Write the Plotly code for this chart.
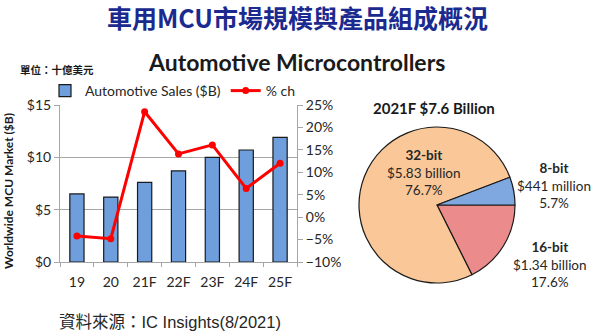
import plotly.graph_objects as go

# --- data ---
years = ["19", "20", "21F", "22F", "23F", "24F", "25F"]
sales_b = [6.5, 6.2, 7.6, 8.7, 10.0, 10.7, 11.9]          # Automotive Sales ($B)
pct_change = [-4.2, -4.8, 23.5, 14.1, 16.1, 6.4, 12.0]    # % ch

seg_names = ["16-bit", "32-bit", "8-bit"]
seg_values_m = [1340, 5830, 441]                           # $ million, 2021F
seg_amount_text = ["$1.34 billion", "$5.83 billion", "$441 million"]
seg_share_text = ["17.6%", "76.7%", "5.7%"]
seg_colors = ["#EC8B8B", "#FAC898", "#7FA8E0"]

W, H = 600, 333
FONT = "Lato, Open Sans, sans-serif"
CJK = "Noto Sans CJK TC, Noto Sans CJK SC, sans-serif"
SRC = "Liberation Sans, Noto Sans CJK TC, sans-serif"


def px(x, y):
    """pixel position -> paper coordinates"""
    return x / W, 1 - y / H


fig = go.Figure()

fig.add_trace(go.Bar(
    x=years, y=sales_b, name="Automotive Sales ($B)",
    marker=dict(color="#6E9EDC", line=dict(color="#1a1a1a", width=1.2)),
    width=0.42, xaxis="x", yaxis="y",
))
fig.add_trace(go.Scatter(
    x=years, y=pct_change, name="% ch", mode="lines+markers",
    line=dict(color="#FF0000", width=3),
    marker=dict(color="#FF0000", size=7),
    xaxis="x", yaxis="y2",
))

fig.add_trace(go.Pie(
    labels=seg_names, values=seg_values_m, sort=False,
    direction="clockwise", rotation=90,
    marker=dict(colors=seg_colors, line=dict(color="#1a1a1a", width=1.2)),
    textinfo="none", hoverinfo="label+percent", showlegend=False,
    domain=dict(x=[359 / W, 515 / W], y=[1 - 283 / H, 1 - 127 / H]),
))

x0, x1 = 60 / W, 297 / W
y0, y1 = 1 - 262 / H, 1 - 105 / H
grid = "#A6A6A6"
tick_font = dict(family=FONT, size=14, color="#262626")

fig.update_layout(
    width=W, height=H,
    margin=dict(l=0, r=0, t=0, b=0, autoexpand=False),
    paper_bgcolor="white", plot_bgcolor="white",
    font=dict(family=FONT, size=13, color="#262626"),
    xaxis=dict(
        domain=[x0, x1], showline=True, linecolor=grid, linewidth=1,
        ticks="outside", tickson="boundaries", ticklen=4, tickcolor=grid,
        tickfont=tick_font, showgrid=False, automargin=False,
        ticklabelstandoff=7,
    ),
    yaxis=dict(
        domain=[y0, y1], range=[0, 15], dtick=5, tickprefix="$",
        showline=True, linecolor=grid, linewidth=1,
        ticks="outside", ticklen=5, tickcolor=grid,
        showgrid=True, gridcolor=grid, gridwidth=1, zeroline=False,
        tickfont=tick_font, automargin=False,
    ),
    yaxis2=dict(
        overlaying="y", side="right", anchor="x", range=[-10, 25], dtick=5,
        ticksuffix="%", showline=True, linecolor=grid, linewidth=1,
        ticks="outside", ticklen=5, tickcolor=grid,
        showgrid=False, zeroline=False,
        tickfont=tick_font, automargin=False,
    ),
    legend=dict(
        orientation="h", x=45 / W, y=1 - 91 / H, xanchor="left", yanchor="middle",
        font=dict(family=FONT, size=14, color="#262626"), bgcolor="rgba(0,0,0,0)",
        itemwidth=30, tracegroupgap=0,
    ),
)

ann = []
tx, ty = px(297, 17.5)
ann.append(dict(x=tx, y=ty, text="<b>車用MCU市場規模與產品組成概況</b>",
                font=dict(family=CJK, size=25, color="#1B2A8F")))
tx, ty = px(296, 62)
ann.append(dict(x=tx, y=ty, text="<b>Automotive Microcontrollers</b>",
                font=dict(family=FONT, size=23, color="#1a1a1a")))
tx, ty = px(18, 69)
ann.append(dict(x=tx, y=ty, text="<b>單位：十億美元</b>", xanchor="left",
                font=dict(family=CJK, size=10.5, color="#1a1a1a")))
tx, ty = px(9, 191)
ann.append(dict(x=tx, y=ty, text="<b>Worldwide MCU Market ($B)</b>", textangle=-90,
                font=dict(family=FONT, size=12, color="#1a1a1a")))
tx, ty = px(434, 108)
ann.append(dict(x=tx, y=ty, text="<b>2021F $7.6 Billion</b>",
                font=dict(family=FONT, size=15, color="#1a1a1a")))
tx, ty = px(170, 322)
ann.append(dict(x=tx, y=ty, text="資料來源：IC Insights(8/2021)",
                font=dict(family=SRC, size=16.5, color="#262626")))

# slice labels: name, amount, share
label_pos = {"32-bit": (424, 172), "8-bit": (554, 185), "16-bit": (550, 264)}
for name, amt, share in zip(seg_names, seg_amount_text, seg_share_text):
    lx, lyc = label_pos[name]
    tx, ty = px(lx, lyc)
    ann.append(dict(x=tx, y=ty,
                    text=f"<b>{name}</b><br>{amt}<br>{share}",
                    font=dict(family=FONT, size=13.5, color="#262626")))

for a in ann:
    a.setdefault("xanchor", "center")
    a.update(xref="paper", yref="paper", showarrow=False, yanchor="middle")
fig.update_layout(annotations=ann)

fig.write_html("out.html")
